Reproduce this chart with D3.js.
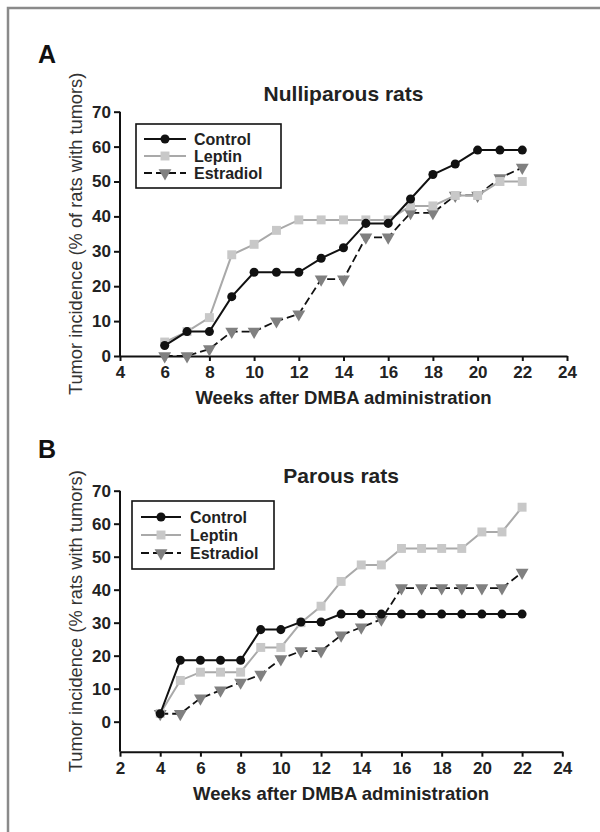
<!DOCTYPE html>
<meta charset="utf-8">
<style>
    body { margin: 0; background: #fff; }
    svg { display: block; font-family: "Liberation Sans", Arial, sans-serif; }
    .tick text { font-weight: bold; font-size: 17px; fill: #222; }
    .domain, .tick line { stroke: #111; stroke-width: 2; }
</style>
<body>
<svg width="600" height="832"></svg>
<script src="https://d3js.org/d3.v7.min.js"></script>
<script>
    // Panel A : nulliparous rats
    const weeksA = [6, 7, 8, 9, 10, 11, 12, 13, 14, 15, 16, 17, 18, 19, 20, 21, 22];
    const controlA = [3, 7, 7, 17, 24, 24, 24, 28, 31, 38, 38, 45, 52, 55, 59, 59, 59];
    const leptinA = [4, 7, 11, 29, 32, 36, 39, 39, 39, 39, 39, 43, 43, 46, 46, 50, 50];
    const estradiolA = [0, 0, 2, 7, 7, 10, 12, 22, 22, 34, 34, 41, 41, 46, 46, 51, 54];
    const xTicksA = [4, 6, 8, 10, 12, 14, 16, 18, 20, 22, 24];

    // Panel B : parous rats
    const weeksB = [4, 5, 6, 7, 8, 9, 10, 11, 12, 13, 14, 15, 16, 17, 18, 19, 20, 21, 22];
    const controlB = [2.4, 18.6, 18.6, 18.6, 18.6, 27.9, 27.9, 30.2, 30.2, 32.6, 32.6, 32.6, 32.6, 32.6, 32.6, 32.6, 32.6, 32.6, 32.6];
    const leptinB = [2.5, 12.5, 15, 15, 15, 22.5, 22.5, 30, 35, 42.5, 47.5, 47.5, 52.5, 52.5, 52.5, 52.5, 57.5, 57.5, 65];
    const estradiolB = [2.4, 2.4, 7.1, 9.5, 11.9, 14.3, 19, 21.4, 21.4, 26.2, 28.6, 31, 40.5, 40.5, 40.5, 40.5, 40.5, 40.5, 45.2];
    const xTicksB = [2, 4, 6, 8, 10, 12, 14, 16, 18, 20, 22, 24];

    const yTicks = [0, 10, 20, 30, 40, 50, 60, 70];
    const seriesNames = ["Control", "Leptin", "Estradiol"];

    const styles = {
        Control: { line: "#111", dash: null, width: 2, shape: d3.symbolCircle, size: 64, fill: "#111" },
        Leptin: { line: "#a9a9a9", dash: null, width: 2, shape: d3.symbolSquare, size: 80, fill: "#c8c8c8" },
        Estradiol: { line: "#111", dash: "8,4", width: 1.8, shape: d3.symbolTriangle, size: 72, fill: "#808080", flip: true }
    };

    const svg = d3.select("svg");

    // cadre gris (coupé à droite et en bas)
    svg.append("rect")
        .attr("x", 8).attr("y", 8)
        .attr("width", 700).attr("height", 900)
        .attr("fill", "none")
        .attr("stroke", "#8a8a8a")
        .attr("stroke-width", 2.5);

    function symbolTransform(st, x, y) {
        return `translate(${x},${y})` + (st.flip ? " rotate(180)" : "");
    }

    function drawPanel(cfg) {
        const x = d3.scaleLinear().domain(cfg.xDomain).range([cfg.left, cfg.right]);
        const y = d3.scaleLinear().domain(cfg.yDomain).range([cfg.bottom, cfg.top]);
        const g = svg.append("g");

        g.append("g")
            .attr("transform", `translate(0,${cfg.bottom})`)
            .call(d3.axisBottom(x).tickValues(cfg.xTicks).tickSize(5).tickSizeOuter(0).tickPadding(5));

        g.append("g")
            .attr("transform", `translate(${cfg.left},0)`)
            .call(d3.axisLeft(y).tickValues(yTicks).tickSize(6).tickSizeOuter(0).tickPadding(3))
            .call(a => a.select(".domain").attr("d", `M0,${cfg.top}V${cfg.bottom}`));

        // lettre du panneau
        g.append("text")
            .attr("x", 38).attr("y", cfg.letterY)
            .attr("font-size", 25).attr("font-weight", "bold").attr("fill", "#111")
            .text(cfg.letter);

        // titre
        g.append("text")
            .attr("x", (cfg.left + cfg.right) / 2).attr("y", cfg.titleY)
            .attr("text-anchor", "middle")
            .attr("font-size", 21).attr("font-weight", "bold").attr("fill", "#222")
            .text(cfg.title);

        // titre axe x
        g.append("text")
            .attr("x", (cfg.left + cfg.right) / 2).attr("y", cfg.bottom + 48)
            .attr("text-anchor", "middle")
            .attr("font-size", 18.5).attr("font-weight", "bold").attr("fill", "#222")
            .text("Weeks after DMBA administration");

        // titre axe y
        const yc = (cfg.top + cfg.bottom) / 2;
        g.append("text")
            .attr("transform", `translate(82,${yc}) rotate(-90)`)
            .attr("text-anchor", "middle")
            .attr("font-size", 18.3).attr("fill", "#333")
            .text(cfg.yTitle);

        const line = d3.line().x(d => x(d[0])).y(d => y(d[1]));

        // ordre de dessin : estradiol, leptine, contrôle
        ["Estradiol", "Leptin", "Control"].forEach(name => {
            const st = styles[name];
            const pts = cfg.weeks.map((w, i) => [w, cfg.series[name][i]]);
            g.append("path")
                .datum(pts)
                .attr("d", line)
                .attr("fill", "none")
                .attr("stroke", st.line)
                .attr("stroke-width", st.width)
                .attr("stroke-dasharray", st.dash);
            g.selectAll(null)
                .data(pts)
                .join("path")
                .attr("d", d3.symbol(st.shape, st.size))
                .attr("transform", d => symbolTransform(st, x(d[0]), y(d[1])))
                .attr("fill", st.fill);
        });

        // légende
        const lg = cfg.legend;
        g.append("rect")
            .attr("x", lg.x0).attr("y", lg.y0)
            .attr("width", lg.x1 - lg.x0).attr("height", lg.y1 - lg.y0)
            .attr("fill", "#fff").attr("stroke", "#111").attr("stroke-width", 1.6);
        seriesNames.forEach((name, i) => {
            const st = styles[name];
            const ly = lg.rows[i];
            g.append("line")
                .attr("x1", lg.lineX0).attr("x2", lg.lineX1)
                .attr("y1", ly).attr("y2", ly)
                .attr("stroke", st.line).attr("stroke-width", st.width)
                .attr("stroke-dasharray", st.dash);
            g.append("path")
                .attr("d", d3.symbol(st.shape, st.size)())
                .attr("transform", symbolTransform(st, (lg.lineX0 + lg.lineX1) / 2, ly))
                .attr("fill", st.fill);
            g.append("text")
                .attr("x", lg.textX).attr("y", ly + 6)
                .attr("font-size", 16).attr("font-weight", "bold").attr("fill", "#222")
                .text(name);
        });
    }

    drawPanel({
        letter: "A", letterY: 63,
        title: "Nulliparous rats", titleY: 101,
        yTitle: "Tumor incidence (% of rats with tumors)",
        left: 120, right: 567, top: 111.7, bottom: 356,
        xDomain: [4, 24], yDomain: [0, 70], xTicks: xTicksA,
        weeks: weeksA,
        series: { Control: controlA, Leptin: leptinA, Estradiol: estradiolA },
        legend: { x0: 136, x1: 281, y0: 124, y1: 188, lineX0: 144, lineX1: 186, textX: 194, rows: [139, 156, 173] }
    });

    drawPanel({
        letter: "B", letterY: 458,
        title: "Parous rats", titleY: 483,
        yTitle: "Tumor incidence (% rats with tumors)",
        left: 120, right: 562.3, top: 490.7, bottom: 751.7,
        xDomain: [2, 24], yDomain: [-9.1, 70], xTicks: xTicksB,
        weeks: weeksB,
        series: { Control: controlB, Leptin: leptinB, Estradiol: estradiolB },
        legend: { x0: 132, x1: 274, y0: 501, y1: 569, lineX0: 141, lineX1: 181, textX: 190, rows: [517, 535, 553] }
    });
</script>
</body>
